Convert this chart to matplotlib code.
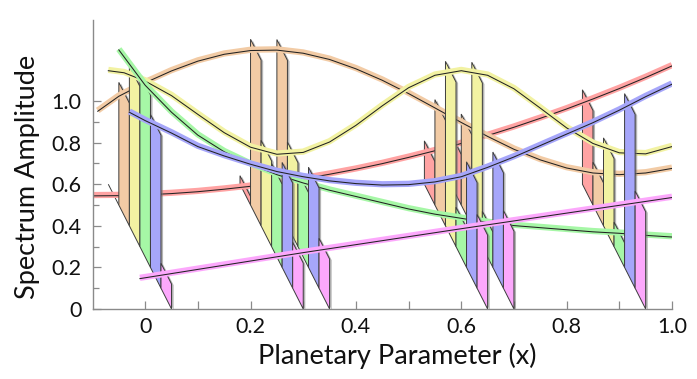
import numpy as np
import matplotlib
matplotlib.use("Agg")
import matplotlib.pyplot as plt
from matplotlib.patches import Polygon
from matplotlib import patheffects as pe
import matplotlib.transforms as mtransforms

# curve values (screen coordinates)
x_red = [-0.1, -0.05, 0.0, 0.05, 0.1, 0.15, 0.2, 0.25, 0.3, 0.35, 0.4, 0.45,
         0.5, 0.55, 0.6, 0.65, 0.7, 0.75, 0.8, 0.85, 0.9, 0.95, 1.0]
y_red = [0.548, 0.549, 0.553, 0.559, 0.568, 0.580, 0.594, 0.611, 0.630, 0.652,
         0.676, 0.703, 0.733, 0.765, 0.800, 0.838, 0.878, 0.921, 0.966, 1.014,
         1.064, 1.117, 1.173]

x_orange = [-0.09, -0.05, 0.0, 0.05, 0.1, 0.15, 0.2, 0.25, 0.3, 0.35, 0.4, 0.45,
            0.5, 0.55, 0.6, 0.65, 0.7, 0.75, 0.8, 0.85, 0.9, 0.95, 1.0]
y_orange = [0.955, 1.027, 1.092, 1.149, 1.196, 1.229, 1.247, 1.249, 1.234, 1.204,
            1.159, 1.104, 1.040, 0.971, 0.901, 0.834, 0.772, 0.721, 0.682, 0.658,
            0.650, 0.658, 0.680]

x_yellow = [-0.07, -0.04, 0.0, 0.05, 0.1, 0.15, 0.2, 0.25, 0.3, 0.35, 0.4, 0.45,
            0.5, 0.55, 0.6, 0.65, 0.7, 0.75, 0.8, 0.85, 0.9, 0.95, 1.0]
y_yellow = [1.150, 1.140, 1.100, 1.030, 0.940, 0.852, 0.782, 0.748, 0.757, 0.807,
            0.887, 0.981, 1.068, 1.128, 1.150, 1.128, 1.063, 0.970, 0.875, 0.800,
            0.755, 0.750, 0.785]

x_green = [-0.05, 0.0, 0.05, 0.1, 0.15, 0.2, 0.25, 0.3, 0.35, 0.4, 0.45, 0.5,
           0.55, 0.6, 0.65, 0.7, 0.75, 0.8, 0.85, 0.9, 0.95, 1.0]
y_green = [1.25, 1.08, 0.95, 0.84, 0.76, 0.70, 0.65, 0.61, 0.575, 0.545, 0.515,
           0.485, 0.46, 0.44, 0.42, 0.405, 0.395, 0.385, 0.375, 0.368, 0.358, 0.35]

x_blue = [-0.03, 0.0, 0.05, 0.1, 0.15, 0.2, 0.25, 0.3, 0.35, 0.4, 0.45, 0.5,
          0.55, 0.6, 0.65, 0.7, 0.75, 0.8, 0.85, 0.9, 0.95, 1.0]
y_blue = [0.95, 0.91, 0.85, 0.785, 0.74, 0.70, 0.665, 0.64, 0.62, 0.607, 0.600,
          0.602, 0.615, 0.64, 0.685, 0.735, 0.79, 0.845, 0.90, 0.96, 1.025, 1.085]

x_magenta = [-0.01, 0.3, 0.6, 1.0]
y_magenta = [0.15, 0.275, 0.39, 0.54]

# left edge of each group of plates
group_starts = [-0.07, 0.18, 0.23, 0.53, 0.58, 0.83]

x_ticks = [0, 0.2, 0.4, 0.6, 0.8, 1.0]
x_ticklabels = ["0", "0.2", "0.4", "0.6", "0.8", "1.0"]
y_ticks = [0, 0.2, 0.4, 0.6, 0.8, 1.0]
y_ticklabels = ["0", "0.2", "0.4", "0.6", "0.8", "1.0"]


def main():
    plt.rcParams['font.family'] = ['Lato', 'DejaVu Sans']

    series = [
        (x_red, y_red, '#FFA3A3'),
        (x_orange, y_orange, '#F2CBA5'),
        (x_yellow, y_yellow, '#F2F2A2'),
        (x_green, y_green, '#A6F7A6'),
        (x_blue, y_blue, '#A6A6FA'),
        (x_magenta, y_magenta, '#FCA8FC'),
    ]

    fig = plt.figure(figsize=(6.97, 3.79), dpi=100)
    ax = fig.add_axes([92.5 / 697, 1 - 309 / 379, (672 - 92.5) / 697, (309 - 20) / 379])
    ax.set_xlim(-0.1, 1.0)
    ax.set_ylim(0, 1.39)

    w = 0.02      # plate width
    drop = 0.1    # slant of a plate over its width
    shadow = [pe.SimplePatchShadow(offset=(1.5, -0.8), shadow_rgbFace='#777777', alpha=0.55),
              pe.Normal()]
    dark = mtransforms.offset_copy(ax.transData, fig=fig, x=0, y=-0.8, units='dots')

    for k, (xs, ys, col) in enumerate(series):
        for x0 in group_starts:
            left = x0 + k * w
            right = left + w
            fc = np.interp(left + w / 2, xs, ys)
            bl = 0.6 - drop * k
            br = bl - drop
            tl = fc + drop / 2
            tr = fc - drop / 2
            if tl < bl:
                tl, tr = bl, br
            poly = Polygon([(left, bl), (left, tl), (right, tr), (right, br)],
                           closed=True, facecolor=col, edgecolor='#3c3c3c',
                           linewidth=0.7, zorder=2 * k + 1, path_effects=shadow)
            ax.add_patch(poly)

        ax.plot(xs, ys, color=col, lw=4.5, solid_capstyle='butt', zorder=2 * k + 1.5)
        ax.plot(xs, ys, color='#222222', lw=0.75, transform=dark, zorder=2 * k + 1.6)

    for s in ['top', 'right']:
        ax.spines[s].set_visible(False)
    for s in ['left', 'bottom']:
        ax.spines[s].set_color('#8a8a8a')
        ax.spines[s].set_linewidth(1.0)
        ax.spines[s].set_zorder(30)

    ax.set_xticks(x_ticks)
    ax.set_xticklabels(x_ticklabels)
    ax.set_xticks(np.arange(0.1, 1.0, 0.2), minor=True)
    ax.set_yticks(y_ticks)
    ax.set_yticklabels(y_ticklabels)
    ax.set_yticks(np.arange(0.1, 1.0, 0.2), minor=True)
    ax.tick_params(which='both', direction='in', color='#8a8a8a', width=0.9,
                   labelsize=15.5, labelcolor='#111111')
    ax.tick_params(axis='x', which='both', length=6, pad=6)
    ax.tick_params(axis='y', which='major', length=6, pad=8)
    ax.tick_params(axis='y', which='minor', length=4.5)

    ax.set_xlabel("Planetary Parameter (x)", fontsize=19.5, labelpad=4, color='#111111')
    ax.set_ylabel("Spectrum Amplitude", fontsize=19.5, labelpad=8, color='#111111')
    ax.xaxis.label.set_x(0.5255)
    ax.yaxis.label.set_y(0.457)

    fig.savefig("out.png", dpi=100)


if __name__ == '__main__':
    main()
